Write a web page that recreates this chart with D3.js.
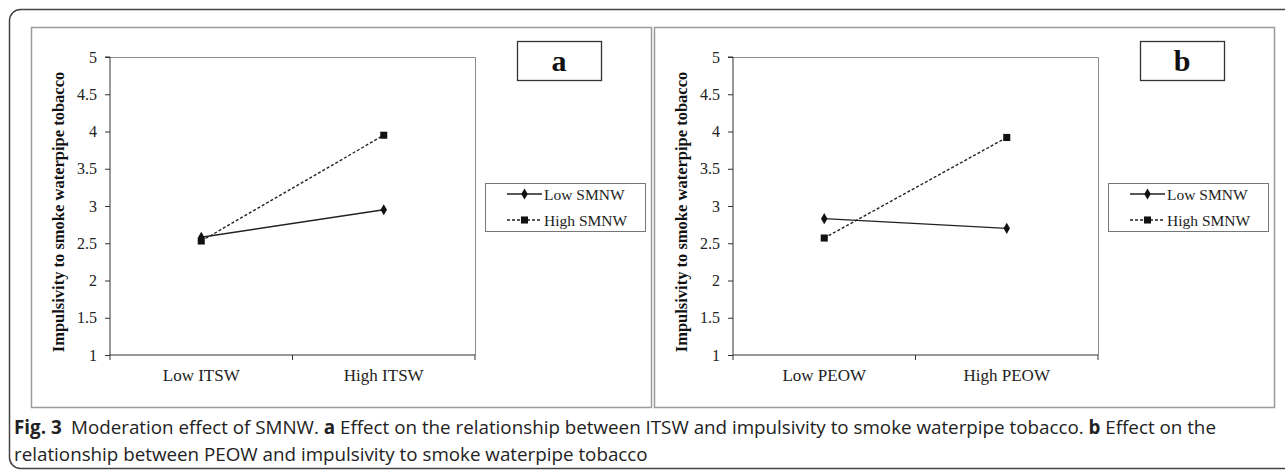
<!DOCTYPE html>
<html>
<head>
<meta charset="utf-8">
<script src="https://cdn.jsdelivr.net/npm/d3@7"></script>
<style>
  body { margin: 0; background: #fff; }
  svg { display: block; }
  .tick text { font-family: "Liberation Serif", "Times New Roman", serif; }
</style>
</head>
<body>
<div id="chart"></div>
<script>
// values
const categoriesA = ["Low ITSW", "High ITSW"];
const categoriesB = ["Low PEOW", "High PEOW"];
const seriesNames = ["Low SMNW", "High SMNW"];
const lowSmnwA = [2.58, 2.95];
const highSmnwA = [2.53, 3.95];
const lowSmnwB = [2.83, 2.70];
const highSmnwB = [2.57, 3.92];
const yTicks = [1, 1.5, 2, 2.5, 3, 3.5, 4, 4.5, 5];
const yLabel = "Impulsivity to smoke waterpipe tobacco";
const panelLetters = ["a", "b"];

const width = 1285;
const height = 473;

const svg = d3.select("#chart")
  .append("svg")
    .attr("width", width)
    .attr("height", height);

// outer rounded frame (right side runs off the page)
svg.append("rect")
  .attr("x", 9.5).attr("y", 9.5)
  .attr("width", 1300).attr("height", 459)
  .attr("rx", 11)
  .attr("fill", "none")
  .attr("stroke", "#444")
  .attr("stroke-width", 1.5);

const serif = "'Liberation Serif', 'Times New Roman', serif";

function panel(left, cats, lowVals, highVals, letter) {
  const g = svg.append("g").attr("transform", `translate(${left},0)`);

  // panel border
  g.append("rect")
    .attr("x", 0.5).attr("y", 27.5)
    .attr("width", 620).attr("height", 380)
    .attr("fill", "none")
    .attr("stroke", "#9a9a9a")
    .attr("stroke-width", 1.5);

  const plot = { left: 79, right: 444, top: 57, bottom: 355 };

  const x = d3.scaleBand()
    .domain(cats)
    .range([plot.left, plot.right])
    .padding(0);
  const y = d3.scaleLinear()
    .domain([1, 5])
    .range([plot.bottom, plot.top]);

  // plot frame top/right
  g.append("path")
    .attr("d", `M${plot.left},${plot.top + 0.5}H${plot.right + 0.5}V${plot.bottom}`)
    .attr("fill", "none")
    .attr("stroke", "#8c8c8c")
    .attr("stroke-width", 1);

  const yAxis = d3.axisLeft(y)
    .tickValues(yTicks)
    .tickFormat(d3.format("~g"))
    .tickSize(5)
    .tickPadding(8);
  const ya = g.append("g")
    .attr("transform", `translate(${plot.left},0)`)
    .call(yAxis);
  ya.select(".domain").attr("stroke", "#333").attr("d", `M-5,${plot.top}H0V${plot.bottom}`);
  ya.selectAll(".tick line").attr("stroke", "#333");
  ya.selectAll(".tick text").attr("font-size", 16).attr("fill", "#222");

  // x axis: ticks on category boundaries, labels at centres
  const xa = g.append("g").attr("transform", `translate(0,${plot.bottom})`);
  xa.append("line")
    .attr("x1", plot.left).attr("x2", plot.right)
    .attr("stroke", "#333").attr("stroke-width", 1.2);
  const bounds = cats.map(c => x(c)).concat([x.range()[1]]);
  xa.selectAll(".xtick")
    .data(bounds)
    .enter()
    .append("line")
    .attr("class", "xtick")
    .attr("x1", d => d).attr("x2", d => d)
    .attr("y1", 0).attr("y2", 5)
    .attr("stroke", "#333");
  xa.selectAll(".xlab")
    .data(cats)
    .enter()
    .append("text")
    .attr("class", "xlab")
    .attr("x", d => x(d) + x.bandwidth() / 2)
    .attr("y", 26)
    .attr("text-anchor", "middle")
    .attr("font-family", serif)
    .attr("font-size", 17)
    .attr("fill", "#222")
    .text(d => d);

  // y label
  g.append("text")
    .attr("transform", `translate(33,${(plot.top + plot.bottom) / 2 + 6}) rotate(-90)`)
    .attr("text-anchor", "middle")
    .attr("font-family", serif)
    .attr("font-weight", "bold")
    .attr("font-size", 16.5)
    .attr("fill", "#111")
    .text(yLabel);

  const cx = d => x(d) + x.bandwidth() / 2;
  const line = d3.line().x(d => cx(d.c)).y(d => y(d.v));

  const series = [
    { name: seriesNames[0], vals: lowVals, dash: null, shape: d3.symbolDiamond, size: 36 },
    { name: seriesNames[1], vals: highVals, dash: "3,2", shape: d3.symbolSquare, size: 50 }
  ];

  series.forEach(s => {
    const pts = cats.map((c, i) => ({ c: c, v: s.vals[i] }));
    g.append("path")
      .datum(pts)
      .attr("d", line)
      .attr("fill", "none")
      .attr("stroke", "#222")
      .attr("stroke-width", 1.4)
      .attr("stroke-dasharray", s.dash);
    g.selectAll(null)
      .data(pts)
      .enter()
      .append("path")
      .attr("transform", d => `translate(${cx(d.c)},${y(d.v)})`)
      .attr("d", d3.symbol().type(s.shape).size(s.size))
      .attr("fill", "#111");
  });

  // legend
  const lg = g.append("g").attr("transform", "translate(454,183)");
  lg.append("rect")
    .attr("x", 0.5).attr("y", 0.5)
    .attr("width", 160).attr("height", 48)
    .attr("fill", "#fff")
    .attr("stroke", "#777");
  series.forEach((s, i) => {
    const ly = 11 + i * 26;
    lg.append("line")
      .attr("x1", 22).attr("x2", 57)
      .attr("y1", ly).attr("y2", ly)
      .attr("stroke", "#222")
      .attr("stroke-width", 1.4)
      .attr("stroke-dasharray", s.dash);
    lg.append("path")
      .attr("transform", `translate(39.5,${ly})`)
      .attr("d", d3.symbol().type(s.shape).size(s.size))
      .attr("fill", "#111");
    lg.append("text")
      .attr("x", 59).attr("y", ly + 6)
      .attr("font-family", serif)
      .attr("font-size", 15.5)
      .attr("fill", "#222")
      .text(s.name);
  });

  // panel letter box
  g.append("rect")
    .attr("x", 486.5).attr("y", 41.5)
    .attr("width", 84).attr("height", 39)
    .attr("fill", "none")
    .attr("stroke", "#333")
    .attr("stroke-width", 1.3);
  g.append("text")
    .attr("x", 528).attr("y", 71)
    .attr("text-anchor", "middle")
    .attr("font-family", serif)
    .attr("font-weight", "bold")
    .attr("font-size", 30)
    .attr("fill", "#111")
    .text(letter);
}

panel(31, categoriesA, lowSmnwA, highSmnwA, panelLetters[0]);
panel(654, categoriesB, lowSmnwB, highSmnwB, panelLetters[1]);

// caption
const capFont = "'Open Sans', 'Noto Sans', sans-serif";
const cap = svg.append("g")
  .attr("font-family", capFont)
  .attr("font-size", 18.8)
  .attr("fill", "#222");
const l1 = cap.append("text").attr("x", 14).attr("y", 434);
l1.append("tspan").attr("font-weight", "bold").text("Fig. 3");
l1.append("tspan").text("\u2002Moderation effect of SMNW. ");
l1.append("tspan").attr("font-weight", "bold").text("a");
l1.append("tspan").text(" Effect on the relationship between ITSW and impulsivity to smoke waterpipe tobacco. ");
l1.append("tspan").attr("font-weight", "bold").text("b");
l1.append("tspan").text(" Effect on the");
cap.append("text").attr("x", 14).attr("y", 461)
  .text("relationship between PEOW and impulsivity to smoke waterpipe tobacco");
</script>
</body>
</html>
